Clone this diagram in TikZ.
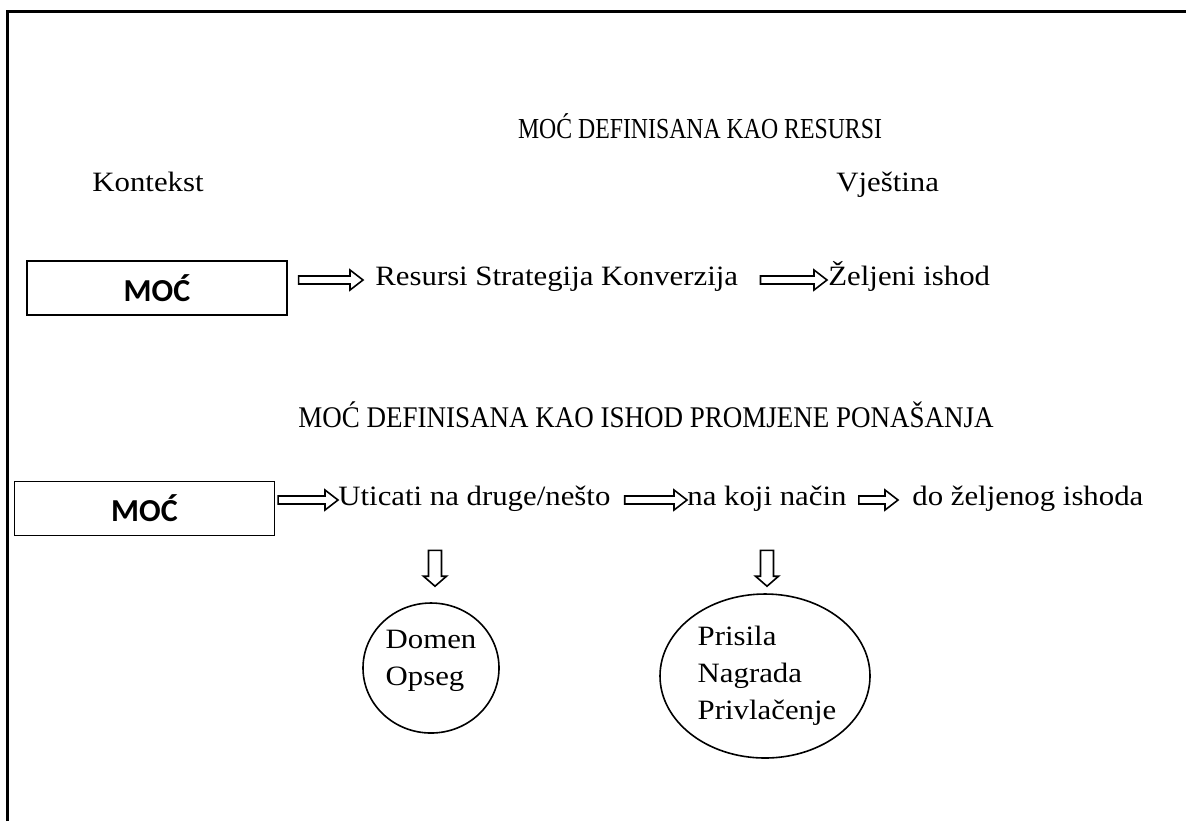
\documentclass[tikz,border=0pt]{standalone}
\usepackage{fontspec}
\setmainfont[FakeStretch=1.1]{Liberation Serif}
\newfontfamily\headfont[FakeStretch=0.9]{Liberation Serif}
\newfontfamily\headfontnarrow[FakeStretch=0.82]{Liberation Serif}
\newfontfamily\mocfont{Carlito}
\usepackage{tikz}
\usetikzlibrary{shapes.geometric,positioning,arrows.meta,calc}

\begin{document}
\begin{tikzpicture}[x=0.5pt,y=-0.5pt,
    font=\fontsize{14}{18.5}\selectfont,
    mocbox/.style={draw, line width=0.6pt, minimum width=130pt, minimum height=27pt,
        font=\mocfont\bfseries\fontsize{16}{18}\selectfont},
    txt/.style={inner sep=0pt, anchor=west, text height=0.75em, text depth=0.25em},
    heading/.style={inner sep=0pt, text height=0.75em, text depth=0.25em},
    rightarrow/.style={draw, line width=0.8pt, to path={
        ($(\tikztostart)+(0,-4)$) -- ($(\tikztotarget)+(-13,-4)$)
        -- ($(\tikztotarget)+(-13,-10)$) -- (\tikztotarget)
        -- ($(\tikztotarget)+(-13,10)$) -- ($(\tikztotarget)+(-13,4)$)
        -- ($(\tikztostart)+(0,4)$) -- cycle}},
    downarrow/.style={draw, line width=0.8pt, to path={
        ($(\tikztostart)+(-6.5,0)$) -- ($(\tikztotarget)+(-6.5,-10)$)
        -- ($(\tikztotarget)+(-11.5,-10)$) -- (\tikztotarget)
        -- ($(\tikztotarget)+(11.5,-10)$) -- ($(\tikztotarget)+(6.5,-10)$)
        -- ($(\tikztostart)+(6.5,0)$) -- cycle}},
    oval/.style={draw, ellipse, line width=0.8pt, inner sep=0pt},
    ovaltext/.style={align=left, inner sep=0pt}
]
\useasboundingbox (0,0) rectangle (1186,821);

% frame
\draw[line width=1.5pt] (7.5,821) -- (7.5,11.5) -- (1186,11.5);

% power as resources
\node[heading, font=\headfontnarrow\fontsize{14.5}{17}\selectfont] (title1) at (700,133) { MOĆ DEFINISANA KAO RESURSI };
\node[txt] (kontekst) at (92,186) { Kontekst };
\node[txt] (vjestina) at (836,186) { Vještina };

\node[mocbox] (box1) at (157,288) { MOĆ };
\node[txt] (res) at (375,280) { Resursi Strategija Konverzija };
\node[txt] (ishod) at (828,280) { Željeni ishod };

\draw[rightarrow] ($(box1.east |- res.west)+(11,0)$) to ($(res.west)+(-12,0)$);
\draw[rightarrow] ($(res.east)+(22,0)$) to ($(ishod.west)+(-1,0)$);

% power as behavioural outcome
\node[heading, font=\headfont\fontsize{15}{18}\selectfont] (title2) at (646,422) { MOĆ DEFINISANA KAO ISHOD PROMJENE PONAŠANJA };

\node[mocbox] (box2) at (144.5,508.5) { MOĆ };
\node[txt] (uticati) at (338,500) { Uticati na druge/nešto };
\node[txt] (nacin) at (687,500) { na koji način };
\node[txt] (dozelj) at (912,500) { do željenog ishoda };

\draw[rightarrow] ($(box2.east |- uticati.west)+(3,0)$) to (uticati.west);
\draw[rightarrow] ($(uticati.east)+(14,0)$) to (nacin.west);
\draw[rightarrow] ($(nacin.east)+(12,0)$) to ($(dozelj.west)+(-14,0)$);

\node[oval, minimum width=68pt, minimum height=65pt,
    label={[ovaltext, yshift=3.5pt]center:Domen\\Opseg}] (domen) at (431,668) {};
\node[oval, minimum width=105pt, minimum height=82pt,
    label={[ovaltext, xshift=1pt]center:Prisila\\Nagrada\\Privlačenje}] (prisila) at (765,676) {};

\draw[downarrow] ($(domen.north |- uticati.south)+(4,40)$) to ($(domen.north)+(4,-16)$);
\draw[downarrow] ($(prisila.north |- nacin.south)+(2,40)$) to ($(prisila.north)+(2,-7)$);

\end{tikzpicture}
\end{document}
